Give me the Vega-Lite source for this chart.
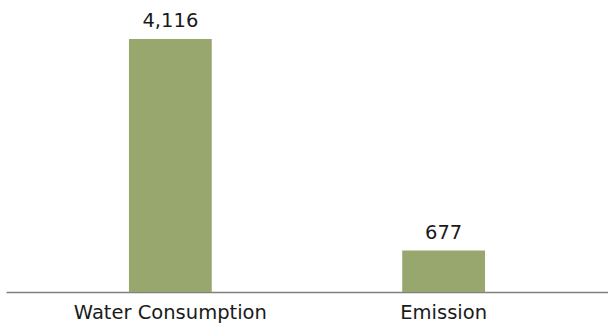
{
  "$schema": "https://vega.github.io/schema/vega-lite/v6.json",
  "autosize": {"type": "none"},
  "width": 602,
  "height": 292,
  "padding": {"left": 6, "top": 0, "right": 0, "bottom": 32},
  "background": "white",
  "config": {"view": {"stroke": null}, "font": "DejaVu Sans"},
  "data": {
    "values": [
      {"category": "Water Consumption", "value": 4116},
      {"category": "Emission", "value": 677}
    ]
  },
  "encoding": {
    "x": {
      "field": "category",
      "type": "nominal",
      "sort": null,
      "scale": {"paddingInner": 0.697, "paddingOuter": 0.45},
      "axis": {
        "title": null,
        "ticks": false,
        "domainColor": "#808080",
        "domainWidth": 1.3,
        "labelAngle": 0,
        "labelFont": "DejaVu Sans",
        "labelFontSize": 19.5,
        "labelColor": "#1a1a1a",
        "labelBaseline": "alphabetic",
        "labelPadding": 26,
        "labelLimit": 0
      }
    },
    "y": {
      "field": "value",
      "type": "quantitative",
      "scale": {"domain": [0, 4750], "nice": false},
      "axis": null
    }
  },
  "layer": [
    {"mark": {"type": "bar", "color": "#97a76d"}},
    {
      "mark": {
        "type": "text",
        "baseline": "alphabetic",
        "dy": -11.5,
        "fontSize": 19.5,
        "font": "DejaVu Sans",
        "color": "#1a1a1a"
      },
      "encoding": {"text": {"field": "value", "type": "quantitative", "format": ","}}
    }
  ]
}
